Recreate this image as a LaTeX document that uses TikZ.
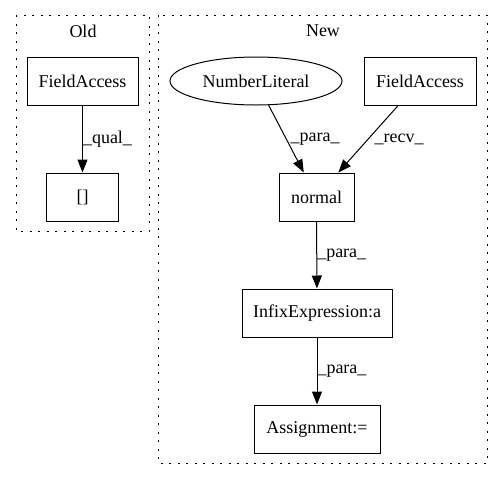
\documentclass[tikz,border=0pt]{standalone}
\usepackage{fontspec}
\setmainfont{Liberation Serif}
\usetikzlibrary{arrows.meta,shapes.geometric}
\tikzset{
  box/.style={draw, line width=1pt, rectangle, minimum height=48pt, inner sep=0pt},
  oval/.style={draw, line width=1pt, ellipse, minimum height=48pt, inner sep=0pt},
  edge/.style={line width=1pt, -{Triangle[length=13pt,width=10pt]}},
  lbl/.style={anchor=west, inner sep=0pt},
  cluster/.style={line width=1pt, dash pattern=on 2pt off 6.5pt}
}
\begin{document}
\begin{tikzpicture}[x=1pt, y=-1pt, font=\fontsize{18pt}{21pt}\selectfont]
            \useasboundingbox (0, 0) rectangle (503, 480);
            % clusters
            \draw[cluster] (16, 15) rectangle (149, 231);
            \node (oldtitle) at (83, 31) {Old};
            \draw[cluster] (158, 15) rectangle (487, 463);
            \node (newtitle) at (323, 31) {New};

            % old
            \node[box, minimum width=111pt] (oldfa) at (82.5, 81) {FieldAccess};
            \node[box, minimum width=72pt] (oldidx) at (82.5, 197) {[]};
            \draw[edge] (oldfa) -- node[lbl] (lqual) {\_qual\_} (oldidx);

            % new
            \node[oval, minimum width=172pt] (numlit) at (256, 81) {NumberLiteral};
            \node[box, minimum width=112pt] (newfa) at (420, 81) {FieldAccess};
            \node[box, minimum width=75pt] (normal) at (316.5, 197) {normal};
            \node[box, minimum width=150pt] (infix) at (317, 313) {InfixExpression:a};
            \node[box, minimum width=126pt] (assign) at (317, 429) {Assignment:=};
            \draw[edge] (numlit) -- node[lbl, xshift=4pt] (lpara1) {\_para\_} (normal);
            \draw[edge] (newfa) -- node[lbl, xshift=6pt] (lrecv) {\_recv\_} (normal);
            \draw[edge] (normal) -- node[lbl] (lpara2) {\_para\_} (infix);
            \draw[edge] (infix) -- node[lbl] (lpara3) {\_para\_} (assign);
\end{tikzpicture}
\end{document}
